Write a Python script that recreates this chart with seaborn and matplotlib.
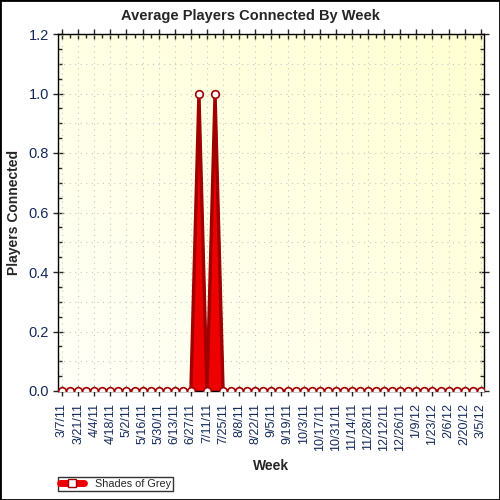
import matplotlib
matplotlib.use("Agg")
import matplotlib.pyplot as plt
import seaborn as sns
import numpy as np
import pandas as pd
from matplotlib.lines import Line2D
from matplotlib.patches import Rectangle
from matplotlib.ticker import MultipleLocator, FixedLocator

# weekly buckets, 3/7/11 .. 3/5/12
weeks = pd.date_range("2011-03-07", "2012-03-05", freq="7D")
week_labels = [f"{d.month}/{d.day}/{d.strftime('%y')}" for d in weeks]

players = [0, 0, 0, 0, 0, 0, 0, 0, 0, 0,
           0, 0, 0, 0, 0, 0, 0, 1, 0, 1,
           0, 0, 0, 0, 0, 0, 0, 0, 0, 0,
           0, 0, 0, 0, 0, 0, 0, 0, 0, 0,
           0, 0, 0, 0, 0, 0, 0, 0, 0, 0,
           0, 0, 0]

series_name = "Shades of Grey"
dark_red = "#A00000"
bright_red = "#EE0000"
tick_color = "#142a5c"

df = pd.DataFrame({"idx": np.arange(len(weeks)), "players": players})

sns.set_style("white")
plt.rcParams["font.family"] = ["Liberation Sans", "DejaVu Sans"]

fig = plt.figure(figsize=(5, 5), dpi=100)
ax = fig.add_axes([0.116, 0.218, 0.852, 0.714])

# soft yellow diagonal gradient background
gx, gy = np.meshgrid(np.linspace(0, 1, 200), np.linspace(0, 1, 200))
g = (gx + gy) / 2
c0 = np.array([1.0, 1.0, 0.975])
c1 = np.array([1.0, 1.0, 0.82])
img = c0[None, None, :] * (1 - g[..., None]) + c1[None, None, :] * g[..., None]
ax.imshow(img, extent=[0, 1, 0, 1], transform=ax.transAxes, origin="lower",
          aspect="auto", zorder=0)

ax.fill_between(df["idx"], 0, df["players"], color=bright_red,
                edgecolor=dark_red, lw=0.8, zorder=2)
sns.lineplot(data=df, x="idx", y="players", ax=ax, color=dark_red, lw=2.4,
             marker="o", markersize=5.5, markerfacecolor="white",
             markeredgecolor=dark_red, markeredgewidth=1.2, zorder=3)

ax.set_xlim(-0.5, len(weeks) - 0.6)
ax.set_ylim(0, 1.2)

# grid
for v in np.arange(0.1, 1.2, 0.1):
    ax.axhline(v, color="#c8c8c8", ls=(0, (1, 4)), lw=0.8, zorder=1)
for i in range(0, len(weeks), 2):
    ax.axvline(i, color="#c8c8c8", ls=(0, (1, 4)), lw=0.8, zorder=1)

ax.xaxis.set_major_locator(FixedLocator(range(0, len(weeks), 2)))
ax.xaxis.set_minor_locator(FixedLocator(range(len(weeks))))
ax.set_xticklabels(week_labels[::2], rotation=90, fontsize=9, color=tick_color)
ax.yaxis.set_minor_locator(MultipleLocator(0.05))
ax.set_yticks(np.arange(0, 1.21, 0.2))
ax.set_yticklabels([f"{v:.1f}" for v in np.arange(0, 1.21, 0.2)],
                   fontsize=10.5, color=tick_color)
ax.tick_params(axis="both", which="major", direction="inout", length=7,
               width=1, top=True, right=True, bottom=True, left=True, pad=3)
ax.tick_params(axis="x", which="major", pad=5)
ax.tick_params(axis="both", which="minor", direction="in", length=3,
               width=1, top=True, right=True, bottom=True, left=True)
ax.tick_params(axis="x", which="major", labeltop=False)
ax.tick_params(axis="y", which="major", labelright=False)

for s in ax.spines.values():
    s.set_visible(True)
    s.set_color("black")
    s.set_linewidth(1)

fig.text(0.5, 0.968, "Average Players Connected By Week", ha="center",
         va="center", fontsize=10.5, fontweight="bold")
ax.set_xlabel("Week", fontsize=10, fontweight="bold")
ax.set_ylabel("Players Connected", fontsize=10, fontweight="bold")
ax.xaxis.set_label_coords(0.5, -0.19)
ax.yaxis.set_label_coords(-0.087, 0.5)

handle = Line2D([], [], color=bright_red, lw=5, marker="s", markersize=6,
                markerfacecolor="white", markeredgecolor=dark_red)
leg = fig.legend([handle], [series_name], loc="lower left",
                 bbox_to_anchor=(0.116, 0.018), fontsize=7.8, frameon=True,
                 fancybox=False, handlelength=2.2, borderpad=0.2,
                 handletextpad=1.0, borderaxespad=0)
leg.get_frame().set_edgecolor("black")
leg.get_frame().set_linewidth(1)

fig.patches.append(Rectangle((0, 0), 1, 1, transform=fig.transFigure,
                             fill=False, edgecolor="black", lw=2))

fig.savefig("out.png", dpi=100)
